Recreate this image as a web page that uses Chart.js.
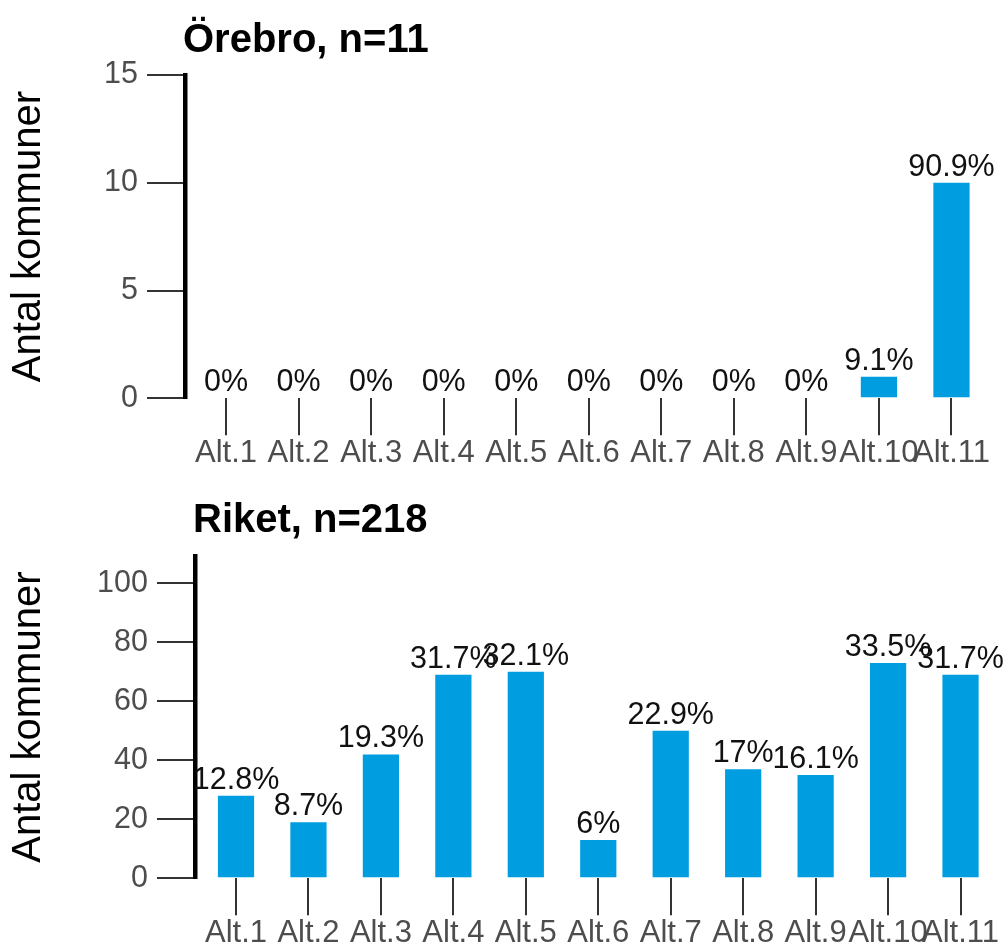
<!DOCTYPE html>
<html><head><meta charset="utf-8">
<script src="https://cdn.jsdelivr.net/npm/chart.js@4.4.1/dist/chart.umd.min.js"></script>
<style>
html,body{margin:0;padding:0;background:#fff;}
#wrap{position:relative;width:1005px;height:947px;overflow:hidden;background:#fff;}
.c{position:absolute;left:0;width:1005px;}
canvas{display:block;}
</style></head><body>
<div id="wrap">
<div class="c" style="top:0;height:475px"><canvas id="c1" width="1005" height="475"></canvas></div>
<div class="c" style="top:475px;height:472px"><canvas id="c2" width="1005" height="472"></canvas></div>
</div>
<script>
// ---- data ----
const categories = ['Alt.1','Alt.2','Alt.3','Alt.4','Alt.5','Alt.6','Alt.7','Alt.8','Alt.9','Alt.10','Alt.11'];
const orebroTitle = 'Örebro, n=11';
const orebroCounts = [0,0,0,0,0,0,0,0,0,1,10];
const orebroPct = ['0%','0%','0%','0%','0%','0%','0%','0%','0%','9.1%','90.9%'];
const orebroTicks = [0,5,10,15];
const riketTitle = 'Riket, n=218';
const riketCounts = [28,19,42,69,70,13,50,37,35,73,69];
const riketPct = ['12.8%','8.7%','19.3%','31.7%','32.1%','6%','22.9%','17%','16.1%','33.5%','31.7%'];
const riketTicks = [0,20,40,60,80,100];
const yTitle = 'Antal kommuner';

const FONT = '"Liberation Sans", Arial, Helvetica, sans-serif';
Chart.defaults.font.family = FONT;

const pctPlugin = {
  id: 'pct',
  afterDatasetsDraw(chart, args, opts) {
    const meta = chart.getDatasetMeta(0);
    const ctx = chart.ctx;
    ctx.save();
    ctx.font = '30.5px ' + FONT;
    ctx.fillStyle = '#111111';
    ctx.textAlign = 'center';
    ctx.textBaseline = 'alphabetic';
    meta.data.forEach((bar, i) => {
      ctx.fillText(opts.labels[i], bar.x, bar.y - 7);
    });
    ctx.restore();
  }
};
const titlePlugin = {
  id: 'ptitle',
  afterDraw(chart, args, opts) {
    const ctx = chart.ctx;
    ctx.save();
    ctx.font = 'bold 40px ' + FONT;
    ctx.fillStyle = '#000';
    ctx.textAlign = 'left';
    ctx.textBaseline = 'alphabetic';
    ctx.fillText(opts.text, chart.chartArea.left - 2, opts.baseline);
    ctx.restore();
  }
};

function makeChart(id, cfg) {
  return new Chart(document.getElementById(id), {
    type: 'bar',
    data: {
      datasets: [{
        data: cfg.counts.map((v, i) => ({x: i + 1, y: v})),
        backgroundColor: '#009EE0',
        borderWidth: 0,
        barPercentage: 0.5,
        categoryPercentage: 1.0
      }]
    },
    plugins: [pctPlugin, titlePlugin],
    options: {
      responsive: false,
      animation: false,
      events: [],
      devicePixelRatio: 1,
      layout: {padding: {top: cfg.padTop, right: cfg.padRight, left: 0, bottom: 0}},
      plugins: {
        legend: {display: false},
        tooltip: {enabled: false},
        title: {display: false},
        pct: {labels: cfg.pct},
        ptitle: {text: cfg.title, baseline: cfg.titleBaseline}
      },
      scales: {
        x: {
          type: 'linear',
          min: 0.434,
          max: 11.6,
          offset: false,
          afterBuildTicks: s => { s.ticks = categories.map((c, i) => ({value: i + 1})); },
          afterFit: s => { s.height = cfg.xHeight; },
          ticks: {
            autoSkip: false, maxRotation: 0, minRotation: 0,
            padding: 0,
            color: '#4D4D4D',
            font: {size: 31},
            callback: v => categories[Math.round(v) - 1]
          },
          grid: {drawOnChartArea: false, drawTicks: true, tickLength: 37, color: '#333333', lineWidth: 2, offset: false},
          border: {display: false}
        },
        y: {
          type: 'linear',
          min: 0,
          max: cfg.yMax,
          afterBuildTicks: s => { s.ticks = cfg.yTicks.map(v => ({value: v})); },
          afterFit: s => { s.width = cfg.yWidth; },
          ticks: {color: '#4D4D4D', font: {size: 30.5}, padding: 9},
          grid: {drawOnChartArea: false, drawTicks: true, tickLength: 38, color: '#333333', lineWidth: 2},
          border: {display: true, color: '#000000', width: 4.5},
          title: {display: true, text: yTitle, color: '#000', font: {size: 40}, padding: {top: 5, bottom: 0}}
        }
      }
    }
  });
}

makeChart('c1', {
  title: orebroTitle, counts: orebroCounts, pct: orebroPct,
  yMax: 15, yTicks: orebroTicks,
  padTop: 75, padRight: 10, xHeight: 475 - 398.3, yWidth: 185, titleBaseline: 52
});
makeChart('c2', {
  title: riketTitle, counts: riketCounts, pct: riketPct,
  yMax: 109.25, yTicks: riketTicks,
  padTop: 556 - 475, padRight: 1, xHeight: 472 - (878.3 - 475), yWidth: 195, titleBaseline: 57
});
</script>
</body></html>
